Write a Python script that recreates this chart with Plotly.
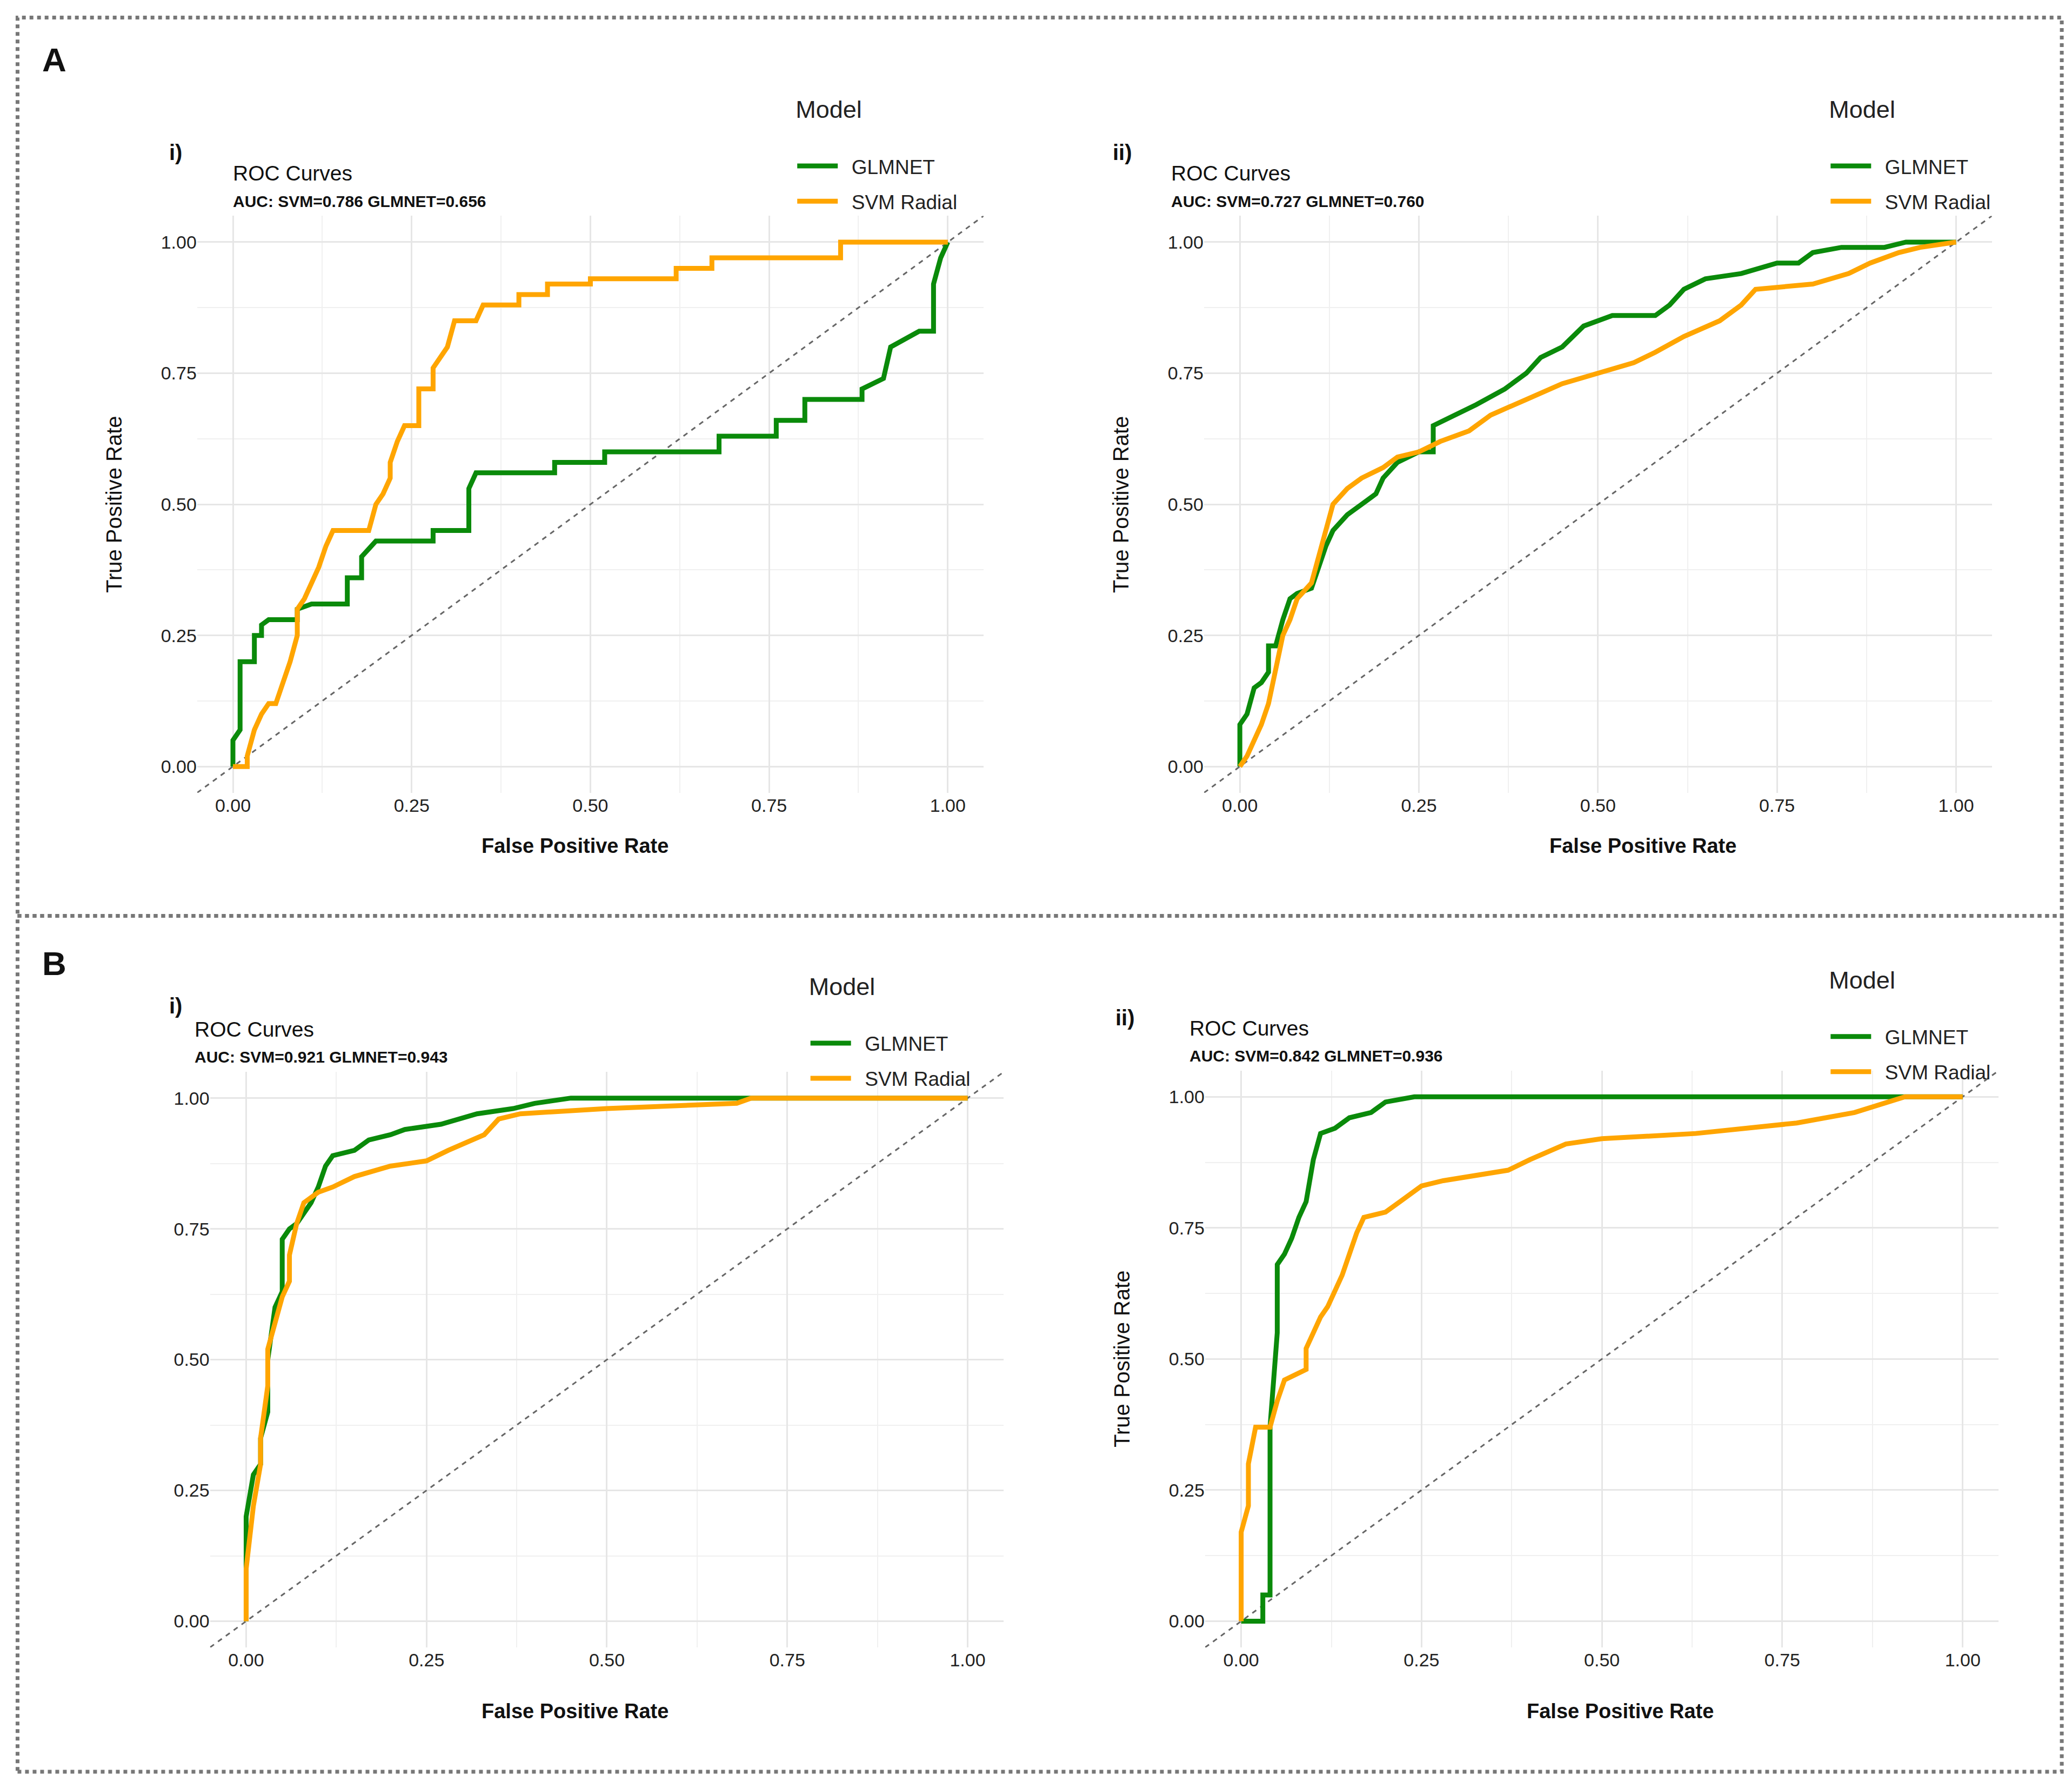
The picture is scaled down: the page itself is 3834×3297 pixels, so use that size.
import plotly.graph_objects as go

# ---- data ----
a1_glm_fpr = [0, 0, 0.01, 0.01, 0.01, 0.03, 0.03, 0.04, 0.04, 0.05, 0.09, 0.09, 0.11, 0.16, 0.16, 0.18, 0.18, 0.2, 0.28, 0.28, 0.33, 0.33, 0.34, 0.45, 0.45, 0.52, 0.52, 0.68, 0.68, 0.76, 0.76, 0.8, 0.8, 0.88, 0.88, 0.91, 0.92, 0.96, 0.98, 0.98, 0.99, 1]
a1_glm_tpr = [0, 0.05, 0.07, 0.15, 0.2, 0.2, 0.25, 0.25, 0.27, 0.28, 0.28, 0.3, 0.31, 0.31, 0.36, 0.36, 0.4, 0.43, 0.43, 0.45, 0.45, 0.53, 0.56, 0.56, 0.58, 0.58, 0.6, 0.6, 0.63, 0.63, 0.66, 0.66, 0.7, 0.7, 0.72, 0.74, 0.8, 0.83, 0.83, 0.92, 0.97, 1]
a1_svm_fpr = [0, 0.02, 0.02, 0.03, 0.04, 0.05, 0.06, 0.07, 0.08, 0.09, 0.09, 0.1, 0.11, 0.12, 0.13, 0.14, 0.19, 0.2, 0.21, 0.22, 0.22, 0.23, 0.24, 0.26, 0.26, 0.28, 0.28, 0.3, 0.31, 0.34, 0.35, 0.4, 0.4, 0.44, 0.44, 0.5, 0.5, 0.62, 0.62, 0.67, 0.67, 0.85, 0.85, 1]
a1_svm_tpr = [0, 0, 0.02, 0.07, 0.1, 0.12, 0.12, 0.16, 0.2, 0.25, 0.3, 0.32, 0.35, 0.38, 0.42, 0.45, 0.45, 0.5, 0.52, 0.55, 0.58, 0.62, 0.65, 0.65, 0.72, 0.72, 0.76, 0.8, 0.85, 0.85, 0.88, 0.88, 0.9, 0.9, 0.92, 0.92, 0.93, 0.93, 0.95, 0.95, 0.97, 0.97, 1, 1]

a2_glm_fpr = [0, 0, 0.01, 0.02, 0.03, 0.04, 0.04, 0.05, 0.06, 0.07, 0.08, 0.1, 0.11, 0.12, 0.13, 0.15, 0.17, 0.19, 0.2, 0.22, 0.25, 0.27, 0.27, 0.3, 0.33, 0.37, 0.4, 0.42, 0.45, 0.48, 0.5, 0.52, 0.58, 0.6, 0.62, 0.65, 0.7, 0.75, 0.78, 0.8, 0.84, 0.9, 0.93, 1]
a2_glm_tpr = [0, 0.08, 0.1, 0.15, 0.16, 0.18, 0.23, 0.23, 0.28, 0.32, 0.33, 0.34, 0.38, 0.42, 0.45, 0.48, 0.5, 0.52, 0.55, 0.58, 0.6, 0.6, 0.65, 0.67, 0.69, 0.72, 0.75, 0.78, 0.8, 0.84, 0.85, 0.86, 0.86, 0.88, 0.91, 0.93, 0.94, 0.96, 0.96, 0.98, 0.99, 0.99, 1.0, 1]
a2_svm_fpr = [0, 0.01, 0.02, 0.03, 0.04, 0.05, 0.06, 0.07, 0.08, 0.1, 0.11, 0.12, 0.13, 0.15, 0.17, 0.2, 0.22, 0.25, 0.28, 0.32, 0.35, 0.4, 0.45, 0.5, 0.55, 0.58, 0.62, 0.67, 0.7, 0.72, 0.8, 0.85, 0.88, 0.92, 0.95, 1]
a2_svm_tpr = [0, 0.02, 0.05, 0.08, 0.12, 0.18, 0.25, 0.28, 0.32, 0.35, 0.4, 0.45, 0.5, 0.53, 0.55, 0.57, 0.59, 0.6, 0.62, 0.64, 0.67, 0.7, 0.73, 0.75, 0.77, 0.79, 0.82, 0.85, 0.88, 0.91, 0.92, 0.94, 0.96, 0.98, 0.99, 1]

b1_glm_fpr = [0, 0, 0.01, 0.02, 0.02, 0.03, 0.03, 0.04, 0.05, 0.05, 0.06, 0.07, 0.08, 0.09, 0.1, 0.11, 0.12, 0.15, 0.17, 0.2, 0.22, 0.27, 0.32, 0.37, 0.4, 0.45, 1]
b1_glm_tpr = [0, 0.2, 0.28, 0.3, 0.35, 0.4, 0.5, 0.6, 0.63, 0.73, 0.75, 0.76, 0.78, 0.8, 0.83, 0.87, 0.89, 0.9, 0.92, 0.93, 0.94, 0.95, 0.97, 0.98, 0.99, 1.0, 1]
b1_svm_fpr = [0, 0, 0.01, 0.02, 0.02, 0.03, 0.03, 0.04, 0.05, 0.06, 0.06, 0.07, 0.08, 0.1, 0.12, 0.15, 0.2, 0.25, 0.28, 0.33, 0.35, 0.38, 0.5, 0.68, 0.7, 1]
b1_svm_tpr = [0, 0.1, 0.22, 0.3, 0.35, 0.45, 0.52, 0.57, 0.62, 0.65, 0.7, 0.76, 0.8, 0.82, 0.83, 0.85, 0.87, 0.88, 0.9, 0.93, 0.96, 0.97, 0.98, 0.99, 1.0, 1]

b2_glm_fpr = [0, 0.03, 0.03, 0.04, 0.04, 0.05, 0.05, 0.06, 0.07, 0.08, 0.09, 0.1, 0.11, 0.13, 0.15, 0.18, 0.2, 0.24, 1]
b2_glm_tpr = [0, 0, 0.05, 0.05, 0.37, 0.55, 0.68, 0.7, 0.73, 0.77, 0.8, 0.88, 0.93, 0.94, 0.96, 0.97, 0.99, 1.0, 1]
b2_svm_fpr = [0, 0, 0.01, 0.01, 0.02, 0.04, 0.05, 0.06, 0.09, 0.09, 0.1, 0.11, 0.12, 0.13, 0.14, 0.15, 0.16, 0.17, 0.2, 0.22, 0.25, 0.28, 0.37, 0.4, 0.45, 0.5, 0.63, 0.77, 0.85, 0.92, 1]
b2_svm_tpr = [0, 0.17, 0.22, 0.3, 0.37, 0.37, 0.42, 0.46, 0.48, 0.52, 0.55, 0.58, 0.6, 0.63, 0.66, 0.7, 0.74, 0.77, 0.78, 0.8, 0.83, 0.84, 0.86, 0.88, 0.91, 0.92, 0.93, 0.95, 0.97, 1.0, 1]

tick_vals = [0, 0.25, 0.5, 0.75, 1]
tick_text = ["0.00", "0.25", "0.50", "0.75", "1.00"]

GREEN = "#0A8A0A"
ORANGE = "#FFA500"
FONT = "Liberation Sans"
W, H = 1568, 1349  # reference display units


def px(x):
    return x / W


def py(y):
    return 1 - y / H


fig = go.Figure()

panels = [
    # suffix, glm, svm, auc, x0, x1, y1, y0, label, label pos, title pos, legend pos, ytitle, xtitle pos
    ("", (a1_glm_fpr, a1_glm_tpr), (a1_svm_fpr, a1_svm_tpr), "AUC: SVM=0.786 GLMNET=0.656",
     173, 714, 180, 577, "i)", (124, 112), (172, 128), (598, 62), True, (432, 637)),
    ("2", (a2_glm_fpr, a2_glm_tpr), (a2_svm_fpr, a2_svm_tpr), "AUC: SVM=0.727 GLMNET=0.760",
     935, 1477, 180, 577, "ii)", (838, 112), (882, 128), (1380, 62), True, (1240, 637)),
    ("3", (b1_glm_fpr, b1_glm_tpr), (b1_svm_fpr, b1_svm_tpr), "AUC: SVM=0.921 GLMNET=0.943",
     183, 729, 828, 1224, "i)", (124, 758), (143, 776), (608, 726), False, (432, 1292)),
    ("4", (b2_glm_fpr, b2_glm_tpr), (b2_svm_fpr, b2_svm_tpr), "AUC: SVM=0.842 GLMNET=0.936",
     936, 1482, 827, 1224, "ii)", (840, 767), (896, 775), (1380, 721), True, (1223, 1292)),
]

layout = {}
annotations = []
for (k, glm, svm, auc, x0, x1, y1, y0, lab, labpos, tpos, lpos, ytitle, xtpos) in panels:
    ux = x1 - x0
    uy = y0 - y1
    dom_x = [px(x0 - 0.05 * ux), px(x1 + 0.05 * ux)]
    dom_y = [py(y0 + 0.05 * uy), py(y1 - 0.05 * uy)]
    xa, ya = "x" + k, "y" + k
    leg = "legend" + k
    fig.add_trace(go.Scatter(x=[-0.05, 1.05], y=[-0.05, 1.05], mode="lines", xaxis=xa, yaxis=ya,
                             line=dict(color="#666666", width=3, dash="dash"), showlegend=False))
    fig.add_trace(go.Scatter(x=glm[0], y=glm[1], mode="lines", name="  GLMNET", xaxis=xa, yaxis=ya,
                             line=dict(color=GREEN, width=9), legend=leg, legendgroup="g" + k))
    fig.add_trace(go.Scatter(x=svm[0], y=svm[1], mode="lines", name="  SVM Radial", xaxis=xa, yaxis=ya,
                             line=dict(color=ORANGE, width=9), legend=leg, legendgroup="s" + k))
    axcommon = dict(range=[-0.05, 1.05], tickvals=tick_vals, ticktext=tick_text, showgrid=True,
                    gridcolor="#E6E6E6", gridwidth=3, zeroline=False, showline=False, ticks="",
                    tickfont=dict(size=34, color="#222222", family=FONT),
                    minor=dict(showgrid=True, tickvals=[0.125, 0.375, 0.625, 0.875],
                               gridcolor="#F0F0F0", gridwidth=2))
    layout["xaxis" + k] = dict(axcommon, domain=dom_x, anchor=ya)
    layout["yaxis" + k] = dict(axcommon, domain=dom_y, anchor=xa)
    layout[leg] = dict(x=px(lpos[0]), y=py(lpos[1]), xanchor="left", yanchor="top",
                       title=dict(text="Model<br> ", font=dict(size=45, family=FONT), side="top"),
                       font=dict(size=37, family=FONT, color="#222222"),
                       bgcolor="rgba(0,0,0,0)", itemwidth=75, tracegroupgap=14)
    annotations.append(dict(x=px(labpos[0]), y=py(labpos[1]), text="<b>" + lab + "</b>", showarrow=False,
                            xref="paper", yref="paper", xanchor="left", yanchor="middle",
                            font=dict(size=40, family=FONT, color="#111111")))
    annotations.append(dict(x=px(tpos[0]), y=py(tpos[1]), text="ROC Curves", showarrow=False,
                            xref="paper", yref="paper", xanchor="left", yanchor="middle",
                            font=dict(size=39, family=FONT, color="#111111")))
    annotations.append(dict(x=px(tpos[0]), y=py(tpos[1] + 21), text="<b>" + auc + "</b>", showarrow=False,
                            xref="paper", yref="paper", xanchor="left", yanchor="middle",
                            font=dict(size=30, family=FONT, color="#111111")))
    annotations.append(dict(x=px(xtpos[0]), y=py(xtpos[1]), text="<b>False Positive Rate</b>", showarrow=False,
                            xref="paper", yref="paper", xanchor="center", yanchor="middle",
                            font=dict(size=38, family=FONT, color="#111111")))
    if ytitle:
        annotations.append(dict(x=px(x0 - 90), y=py((y0 + y1) / 2), text="True Positive Rate", showarrow=False,
                                xref="paper", yref="paper", textangle=-90, xanchor="center", yanchor="middle",
                                font=dict(size=40, family=FONT, color="#111111")))

annotations.append(dict(x=px(28), y=py(42), text="<b>A</b>", showarrow=False, xref="paper", yref="paper",
                        xanchor="left", yanchor="middle", font=dict(size=62, family=FONT, color="#111111")))
annotations.append(dict(x=px(28), y=py(726), text="<b>B</b>", showarrow=False, xref="paper", yref="paper",
                        xanchor="left", yanchor="middle", font=dict(size=62, family=FONT, color="#111111")))

shapes = [
    dict(type="rect", xref="paper", yref="paper", x0=px(10), x1=px(1557), y0=py(690), y1=py(10),
         line=dict(color="#777777", width=7, dash="dot")),
    dict(type="rect", xref="paper", yref="paper", x0=px(10), x1=px(1557), y0=py(1338), y1=py(690),
         line=dict(color="#777777", width=7, dash="dot")),
]

fig.update_layout(width=3834, height=3297, margin=dict(l=0, r=0, t=0, b=0),
                  plot_bgcolor="white", paper_bgcolor="white",
                  annotations=annotations, shapes=shapes, **layout)

fig.write_html("out.html")
